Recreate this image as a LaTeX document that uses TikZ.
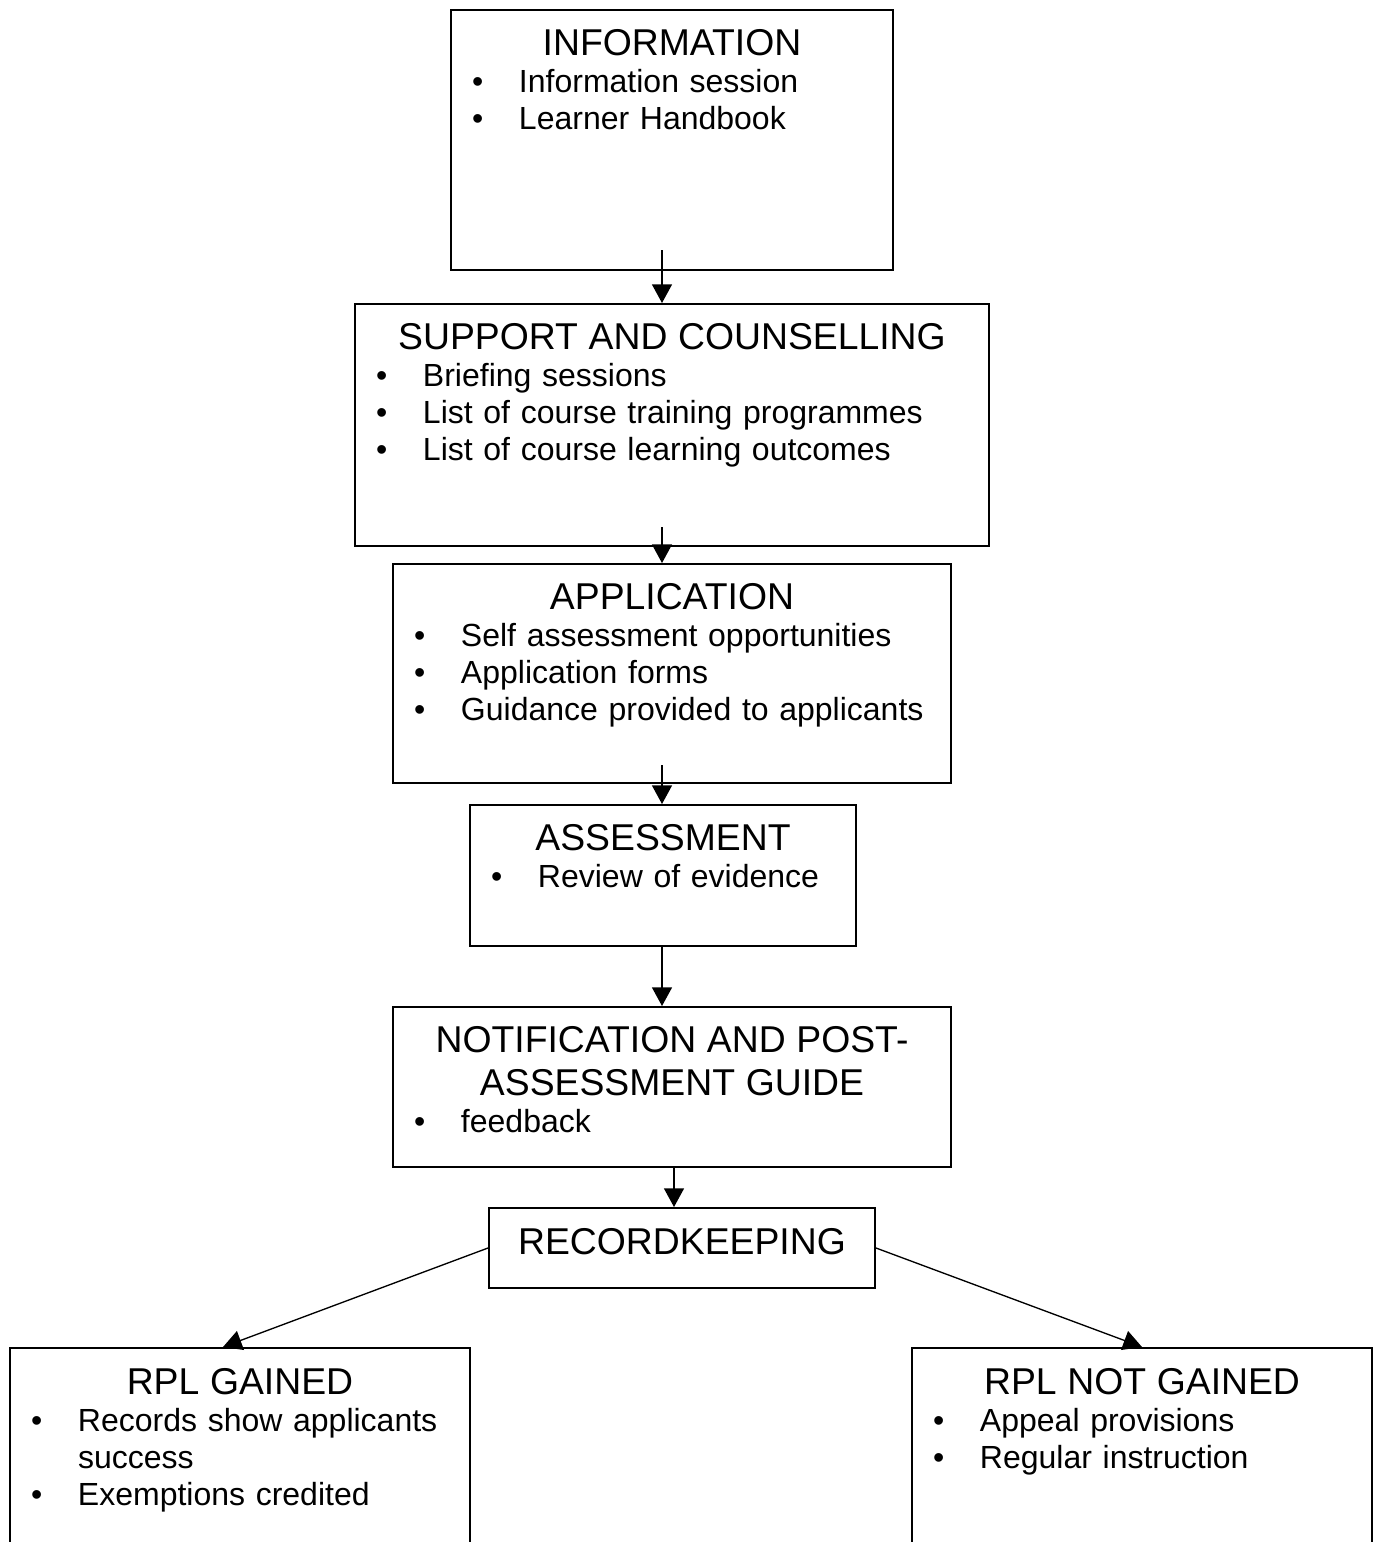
\documentclass[tikz,border=0pt]{standalone}
\usepackage{fontspec}
\setmainfont{Liberation Sans}
\usetikzlibrary{positioning,arrows.meta,calc}
\newdimen\pu \pu=0.375pt
\newcommand\ttl{\fontsize{14pt}{16.1pt}\selectfont}
\newcommand\bdy{\fontsize{12pt}{13.8pt}\selectfont}
\newcommand\head[1]{{\ttl\centering\noindent #1\par}}
\newcommand\itm[1]{\par\hangindent=68\pu\hangafter=1\noindent\hbox to 68\pu{\hskip21\pu •\hfil}#1\par}

\begin{document}
\begin{tikzpicture}[x=\pu,y=-\pu,
  stage/.style={draw,line width=0.75pt,rectangle,anchor=north west,inner sep=0pt},
  stagetext/.style={anchor=north,inner sep=0pt,align=left,font=\bdy},
  flow/.style={line width=0.5pt,-{Triangle[length=7pt,width=7.5pt]}}]
  \useasboundingbox (0,0) rectangle (1379,1542);
  % boxes
  \node[stage,minimum width=442\pu,minimum height=260\pu] (info) at (450,9) {};
  \node[stage,minimum width=634\pu,minimum height=242\pu] (supp) at (354,303) {};
  \node[stage,minimum width=558\pu,minimum height=219\pu] (appl) at (392,563) {};
  \node[stage,minimum width=386\pu,minimum height=141\pu] (asse) at (469,804) {};
  \node[stage,minimum width=558\pu,minimum height=160\pu] (noti) at (392,1006) {};
  \node[stage,minimum width=386\pu,minimum height=80\pu] (reco) at (488,1207) {};
  \node[stage,minimum width=460\pu,minimum height=240\pu] (gain) at (9,1347) {};
  \node[stage,minimum width=460\pu,minimum height=240\pu] (ngain) at (911,1347) {};
  % texts
  \node[stagetext,text width=442\pu] (infotxt) at ($(info.north)+(0,20)$)
    {\head{INFORMATION}\itm{Information session}\itm{Learner Handbook}};
  \node[stagetext,text width=634\pu] (supptxt) at ($(supp.north)+(0,20)$)
    {\head{SUPPORT AND COUNSELLING}\itm{Briefing sessions}\itm{List of course training programmes}\itm{List of course learning outcomes}};
  \node[stagetext,text width=558\pu] (appltxt) at ($(appl.north)+(0,20)$)
    {\head{APPLICATION}\itm{Self assessment opportunities}\itm{Application forms}\itm{Guidance provided to applicants}};
  \node[stagetext,text width=386\pu] (assetxt) at ($(asse.north)+(0,20)$)
    {\head{ASSESSMENT}\itm{Review of evidence}};
  \node[stagetext,text width=558\pu] (notitxt) at ($(noti.north)+(0,20)$)
    {\head{NOTIFICATION AND POST-\\ASSESSMENT GUIDE}\itm{feedback}};
  \node[stagetext,text width=386\pu] (recotxt) at ($(reco.north)+(0,21)$)
    {\head{RECORDKEEPING}};
  \node[stagetext,text width=460\pu] (gaintxt) at ($(gain.north)+(0,21)$)
    {\head{RPL GAINED}\itm{Records show applicants success}\itm{Exemptions credited}};
  \node[stagetext,text width=460\pu] (ngaintxt) at ($(ngain.north)+(0,21)$)
    {\head{RPL NOT GAINED}\itm{Appeal provisions}\itm{Regular instruction}};
  % connectors
  \coordinate (spine) at (662,0);
  \coordinate (spine2) at (674,0);
  \draw[flow] ($(info.south -| spine)+(0,-21)$) -- (supp.north -| spine);
  \draw[flow] ($(supp.south -| spine)+(0,-20)$) -- (appl.north -| spine);
  \draw[flow] ($(appl.south -| spine)+(0,-19)$) -- (asse.north -| spine);
  \draw[flow] (asse.south -| spine) -- (noti.north -| spine);
  \draw[flow] (noti.south -| spine2) -- (reco.north -| spine2);
  \draw[flow] (reco.west) -- ($(gain.north)+(-17,0)$);
  \draw[flow] (reco.east) -- (ngain.north);
\end{tikzpicture}
\end{document}
